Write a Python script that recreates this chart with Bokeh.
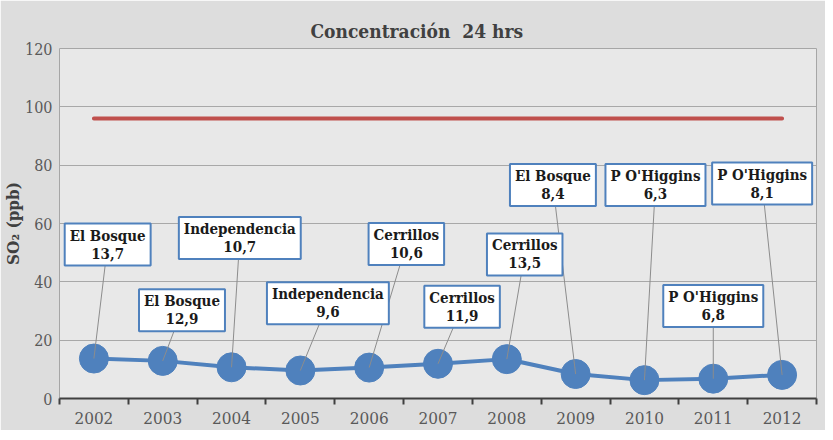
from bokeh.plotting import figure
from bokeh.models import Range1d, FixedTicker, ColumnDataSource, Title
from bokeh.core.properties import value
from bokeh.embed import file_html
from bokeh.resources import INLINE

# ---- data ----
years = ["2002", "2003", "2004", "2005", "2006", "2007", "2008", "2009", "2010", "2011", "2012"]
so2 = [13.7, 12.9, 10.7, 9.6, 10.6, 11.9, 13.5, 8.4, 6.3, 6.8, 8.1]
stations = ["El Bosque", "El Bosque", "Independencia", "Independencia", "Cerrillos",
            "Cerrillos", "Cerrillos", "El Bosque", "P O'Higgins", "P O'Higgins", "P O'Higgins"]
norma = 96
y_ticks = [0, 20, 40, 60, 80, 100, 120]

# callout positions (data units)
label_x = [0.20, 1.28, 2.12, 3.40, 4.54, 5.35, 6.26, 6.67, 8.16, 9.00, 9.71]
label_y = [52.8, 30.3, 55.0, 32.7, 53.0, 31.5, 49.4, 73.2, 73.2, 31.7, 73.7]

SERIF = "DejaVu Serif Condensed"
idx = list(range(len(years)))

p = figure(width=825, height=430, output_backend="svg", toolbar_location=None,
           x_range=Range1d(-0.5, len(years) - 0.5), y_range=Range1d(0, 120),
           min_border_left=59, min_border_right=9, min_border_top=48, min_border_bottom=32)

p.background_fill_color = "#e8e8e8"
p.border_fill_color = "#dddddd"
p.outline_line_color = "#a6a6a6"
p.outline_line_width = 1

# axes
yax = p.yaxis[0]
yax.ticker = FixedTicker(ticks=y_ticks)
yax.axis_line_color = None
yax.major_tick_line_color = None
yax.minor_tick_line_color = None
yax.major_tick_out = 0
yax.major_tick_in = 0
yax.minor_tick_out = 0
yax.minor_tick_in = 0
yax.major_label_text_font = SERIF
yax.major_label_text_font_size = "16px"
yax.major_label_text_color = "#595959"
yax.major_label_standoff = 7

p.add_layout(Title(text="SO₂ (ppb)", align="center", text_font=SERIF, text_font_size="17px",
                   text_font_style="bold", text_color="#404040", standoff=0), "left")

xax = p.xaxis[0]
xax.ticker = FixedTicker(ticks=idx, minor_ticks=[i - 0.5 for i in range(len(years) + 1)])
xax.major_label_overrides = {i: y for i, y in enumerate(years)}
xax.major_tick_in = 0
xax.major_tick_out = 0
xax.minor_tick_in = 0
xax.minor_tick_out = 6
xax.minor_tick_line_color = "#404040"
xax.minor_tick_line_width = 2
xax.axis_line_color = "#404040"
xax.axis_line_width = 2
xax.major_label_text_font = SERIF
xax.major_label_text_font_size = "17px"
xax.major_label_text_color = "#595959"
xax.major_label_standoff = 7

# title
p.title.text = "Concentración\u00a0 24 hrs"
p.title.align = "left"
p.title.offset = 251
p.title.text_font = SERIF
p.title.text_font_size = "19px"
p.title.text_font_style = "bold"
p.title.text_color = "#404040"
p.title.standoff = 13

p.xgrid.grid_line_color = None
p.ygrid.ticker = FixedTicker(ticks=y_ticks)
p.ygrid.grid_line_color = "#a8a8a8"
p.ygrid.grid_line_width = 1

# norm line
p.line(x=idx, y=[norma] * len(idx), line_color="#c0504d", line_width=4, line_cap="round")

# series
src = ColumnDataSource(dict(
    x=idx, y=so2,
    lx=label_x, ly=label_y,
    txt=[f"{s}\n{v:.1f}".replace(".", ",") for s, v in zip(stations, so2)],
))
p.line("x", "y", source=src, line_color="#4f81bd", line_width=4)
p.scatter("x", "y", source=src, size=29, fill_color="#4f81bd", line_color="#4f81bd")

# leader lines
p.segment(x0="lx", y0="ly", x1="x", y1="y", source=src, line_color="#8c8c8c", line_width=1)

# callout boxes
p.text(x="lx", y="ly", text="txt", source=src, text_align="center", text_baseline="middle",
       text_font=value(SERIF), text_font_size="15px", text_font_style="bold",
       text_color="#1a1a1a", text_line_height=1.0,
       background_fill_color="white", border_line_color="#4f81bd", border_line_width=2,
       padding=(5, 3))

open("out.html", "w").write(file_html(p, INLINE))
